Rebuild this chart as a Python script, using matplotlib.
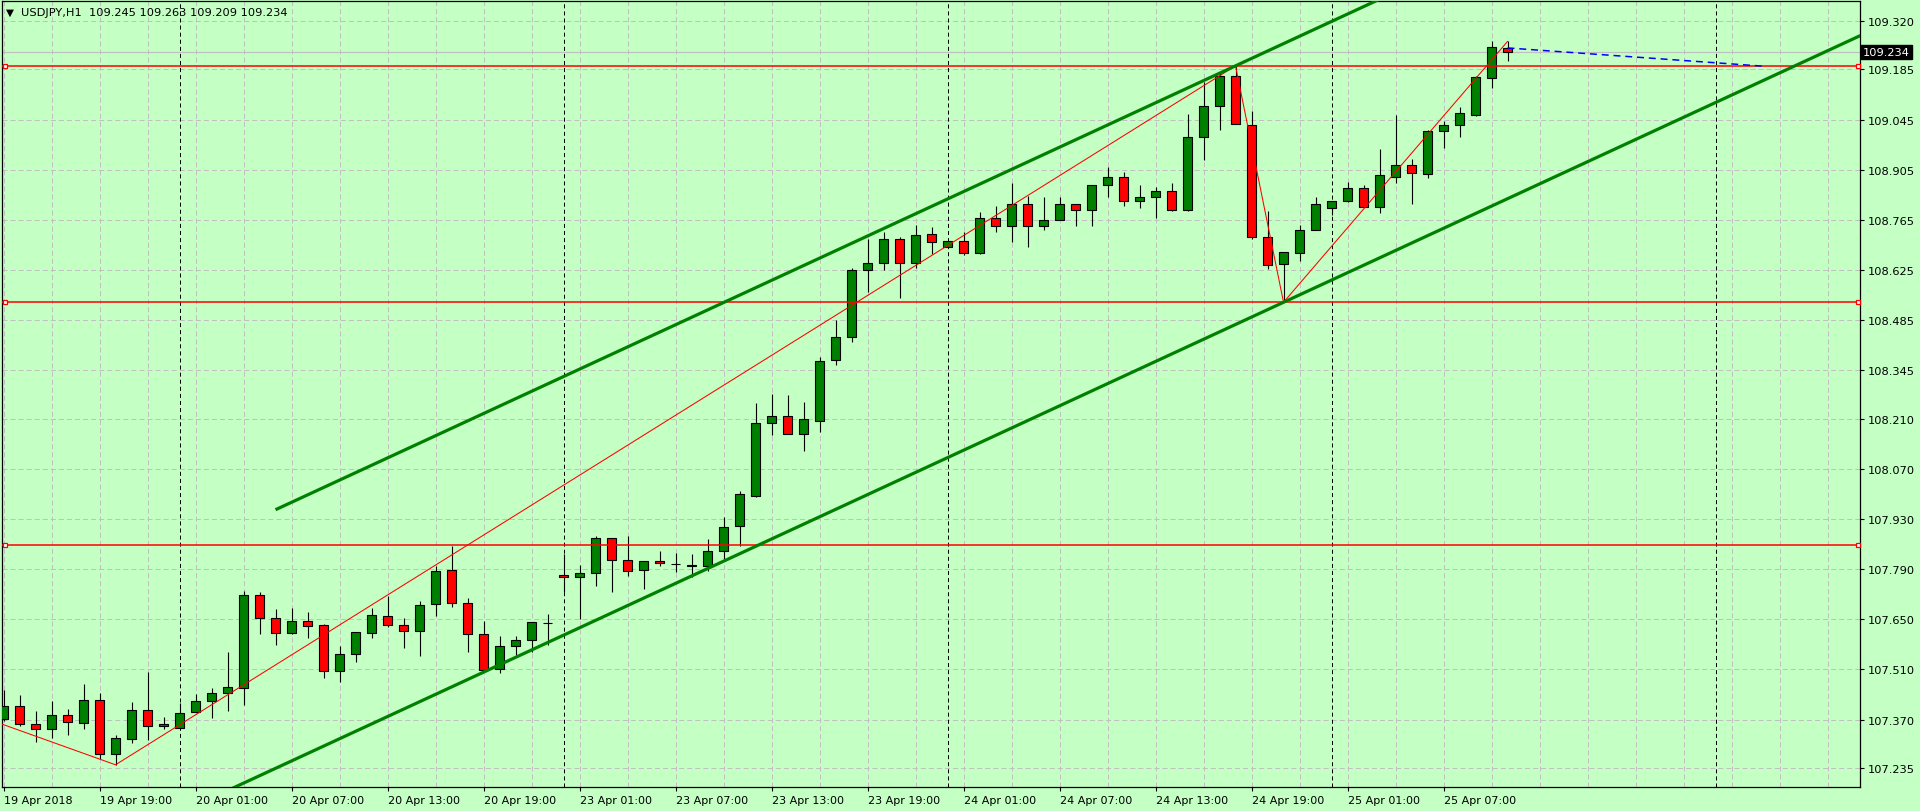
import matplotlib
matplotlib.use('Agg')
import matplotlib.pyplot as plt
import matplotlib.transforms as mtransforms

plt.rcParams['font.family'] = 'DejaVu Sans'
plt.rcParams['font.size'] = 8
plt.rcParams['lines.scale_dashes'] = False

# USDJPY H1, bar 0 = 19 Apr 13:00
opens = [
    107.371, 107.409, 107.357, 107.343, 107.382, 107.360, 107.424, 107.273, 107.315, 107.396,
    107.352, 107.346, 107.391, 107.421, 107.444, 107.459, 107.717, 107.653, 107.613, 107.645,
    107.633, 107.505, 107.552, 107.613, 107.658, 107.633, 107.617, 107.692, 107.787, 107.695,
    107.608, 107.511, 107.575, 107.592, 107.639, 107.773, 107.767, 107.778, 107.876, 107.817,
    107.789, 107.812, 107.805, 107.803, 107.798, 107.840, 107.911, 107.995, 108.197, 108.217,
    108.166, 108.205, 108.373, 108.437, 108.624, 108.644, 108.713, 108.644, 108.725, 108.688,
    108.705, 108.672, 108.769, 108.747, 108.808, 108.747, 108.766, 108.808, 108.794, 108.861,
    108.884, 108.819, 108.828, 108.845, 108.794, 108.995, 109.082, 109.168, 109.029, 108.716,
    108.641, 108.672, 108.736, 108.797, 108.819, 108.853, 108.800, 108.886, 108.917, 108.892,
    109.012, 109.029, 109.059, 109.160, 109.245]
highs = [
    107.453, 107.439, 107.393, 107.421, 107.399, 107.470, 107.445, 107.327, 107.419, 107.503,
    107.377, 107.416, 107.441, 107.458, 107.558, 107.729, 107.725, 107.680, 107.682, 107.671,
    107.636, 107.575, 107.614, 107.681, 107.714, 107.653, 107.701, 107.800, 107.856, 107.709,
    107.646, 107.604, 107.603, 107.642, 107.664, 107.833, 107.802, 107.884, 107.876, 107.882,
    107.812, 107.840, 107.834, 107.831, 107.874, 107.937, 108.008, 108.253, 108.278, 108.275,
    108.256, 108.381, 108.485, 108.630, 108.712, 108.730, 108.716, 108.751, 108.745, 108.705,
    108.730, 108.786, 108.803, 108.868, 108.833, 108.828, 108.828, 108.808, 108.861, 108.912,
    108.898, 108.862, 108.856, 108.868, 109.060, 109.149, 109.174, 109.195, 109.068, 108.789,
    108.674, 108.750, 108.828, 108.817, 108.872, 108.862, 108.962, 109.057, 108.934, 109.017,
    109.040, 109.079, 109.166, 109.263, 109.263]
lows = [
    107.367, 107.352, 107.309, 107.320, 107.326, 107.345, 107.260, 107.244, 107.304, 107.312,
    107.343, 107.346, 107.391, 107.375, 107.393, 107.412, 107.610, 107.577, 107.610, 107.599,
    107.485, 107.476, 107.532, 107.599, 107.630, 107.571, 107.549, 107.660, 107.685, 107.560,
    107.507, 107.501, 107.551, 107.558, 107.577, 107.727, 107.652, 107.744, 107.727, 107.772,
    107.736, 107.800, 107.783, 107.767, 107.786, 107.818, 107.856, 107.992, 108.165, 108.166,
    108.121, 108.174, 108.361, 108.423, 108.563, 108.626, 108.546, 108.632, 108.671, 108.688,
    108.666, 108.671, 108.730, 108.702, 108.688, 108.738, 108.766, 108.749, 108.749, 108.830,
    108.805, 108.799, 108.771, 108.789, 108.789, 108.933, 109.017, 109.032, 108.711, 108.629,
    108.535, 108.651, 108.736, 108.779, 108.814, 108.800, 108.783, 108.867, 108.808, 108.881,
    108.967, 108.995, 109.056, 109.132, 109.209]
closes = [
    107.409, 107.357, 107.343, 107.382, 107.363, 107.424, 107.273, 107.318, 107.396, 107.352,
    107.357, 107.388, 107.421, 107.444, 107.460, 107.717, 107.653, 107.611, 107.645, 107.632,
    107.505, 107.552, 107.614, 107.661, 107.633, 107.617, 107.689, 107.784, 107.695, 107.608,
    107.508, 107.575, 107.592, 107.642, 107.639, 107.767, 107.778, 107.876, 107.817, 107.786,
    107.812, 107.806, 107.805, 107.798, 107.840, 107.909, 107.999, 108.197, 108.217, 108.166,
    108.208, 108.370, 108.437, 108.624, 108.646, 108.713, 108.644, 108.722, 108.702, 108.705,
    108.672, 108.769, 108.747, 108.808, 108.747, 108.766, 108.808, 108.794, 108.861, 108.884,
    108.817, 108.828, 108.845, 108.794, 108.995, 109.082, 109.166, 109.032, 108.716, 108.638,
    108.674, 108.736, 108.808, 108.817, 108.853, 108.800, 108.889, 108.917, 108.895, 109.012,
    109.029, 109.062, 109.163, 109.247, 109.234]

xtick_labels = ['19 Apr 2018', '19 Apr 19:00', '20 Apr 01:00', '20 Apr 07:00', '20 Apr 13:00',
                '20 Apr 19:00', '23 Apr 01:00', '23 Apr 07:00', '23 Apr 13:00', '23 Apr 19:00',
                '24 Apr 01:00', '24 Apr 07:00', '24 Apr 13:00', '24 Apr 19:00', '25 Apr 01:00',
                '25 Apr 07:00']
ytick_labels = ['109.320', '109.185', '109.045', '108.905', '108.765', '108.625', '108.485',
                '108.345', '108.210', '108.070', '107.930', '107.790', '107.650', '107.510',
                '107.370', '107.235']
day_breaks = [11, 35, 59, 83, 107]   # bars at 00:00

levels = [109.194, 108.536, 107.857]           # red horizontal lines
zz_bars = [-1, 7, 77, 80, 94]                   # zigzag pivots
zz_prices = [107.372, 107.244, 109.195, 108.535, 109.263]
chan_bars = [17, 77]                            # upper channel anchors
chan_prices = [107.956, 109.195]
chan_low_bar, chan_low_price = 80, 108.535      # lower parallel line anchor
fc_bars = [94, 110]                             # blue dashed projection
fc_prices = [109.245, 109.194]
bid = 109.234

bg = '#c4ffc4'
bull = '#008000'
bear = '#ff0000'
grid_c = '#c0c0c0'

fig = plt.figure(figsize=(19.2, 8.12), dpi=100, facecolor=bg)
ax = fig.add_axes([2 / 1920, 24 / 812, 1858 / 1920, 786 / 812])
ax.set_facecolor(bg)
ax.set_xlim(-0.094, 116.03)
ax.set_ylim(107.182, 109.376)

# grid
for v in ytick_labels:
    ax.axhline(float(v), color=grid_c, lw=0.72, ls=(0, (3.6, 2.2)), zorder=0.5)
for b in range(0, 117, 3):
    ax.axvline(b, color=grid_c, lw=0.72, ls=(0, (3.6, 2.2)), zorder=0.5)
for b in day_breaks:
    ax.axvline(b, color='black', lw=0.72, ls=(0, (2.9, 2.2)), zorder=0.6)

ax.axhline(bid, color='#c0c0c0', lw=0.9, zorder=0.7)

# candles
n = len(opens)
xs = list(range(n))
cols = []
for o, c in zip(opens, closes):
    if c > o:
        cols.append(bull)
    elif c < o:
        cols.append(bear)
    else:
        cols.append('black')
ax.vlines(xs, lows, highs, color='black', lw=0.8, zorder=2)
bottoms = [min(o, c) for o, c in zip(opens, closes)]
heights = [abs(c - o) for o, c in zip(opens, closes)]
ax.bar(xs, heights, bottom=bottoms, width=0.6, color=cols, edgecolor='black',
       linewidth=0.8, zorder=3)

# horizontal levels with end squares
tr = mtransforms.blended_transform_factory(ax.transAxes, ax.transData)
for lv in levels:
    ax.axhline(lv, color='red', lw=1.1, zorder=4)
    ax.plot([0.0016, 0.9987], [lv, lv], 's', ms=3.2, mfc='white', mec='red', mew=0.9,
            transform=tr, zorder=5, clip_on=False)

# zigzag
ax.plot(zz_bars, zz_prices, color='red', lw=0.75, zorder=4)

# channel
slope = (chan_prices[1] - chan_prices[0]) / (chan_bars[1] - chan_bars[0])
ax.plot([chan_bars[0], 125], [chan_prices[0], chan_prices[0] + slope * (125 - chan_bars[0])],
        color=bull, lw=2.3, zorder=4, solid_capstyle='butt')
ax.plot([0, 125], [chan_low_price + slope * (0 - chan_low_bar),
                   chan_low_price + slope * (125 - chan_low_bar)],
        color=bull, lw=2.3, zorder=4)

# projection
ax.plot(fc_bars, fc_prices, color='blue', lw=1.1, ls=(0, (5, 3.5)), zorder=4)

# axes styling
for s in ax.spines.values():
    s.set_color('black')
    s.set_linewidth(0.9)
ax.yaxis.tick_right()
ax.set_yticks([float(v) for v in ytick_labels])
ax.set_yticklabels(ytick_labels)
ax.tick_params(axis='y', direction='out', length=3, width=0.8, pad=2.6, labelsize=8.2,
               colors='black')
ax.set_xticks(list(range(0, 6 * len(xtick_labels), 6)))
ax.set_xticklabels(xtick_labels, ha='left')
ax.tick_params(axis='x', direction='out', length=3, width=0.8, pad=3, labelsize=8)

# current price tag
ax.text(1.0017, bid, '109.234', transform=tr, color='white', fontsize=8.2, va='center',
        ha='left', bbox=dict(boxstyle='square,pad=0.18', fc='black', ec='black'),
        zorder=6, clip_on=False)

# header
fig.text(6 / 1920, 1 - 13 / 812, '\u25bc', fontsize=7.5, va='center', ha='left')
fig.text(21 / 1920, 1 - 13 / 812, 'USDJPY,H1  109.245 109.263 109.209 109.234',
         fontsize=8.2, va='center', ha='left')

fig.savefig('out.png', dpi=100, facecolor=bg)
